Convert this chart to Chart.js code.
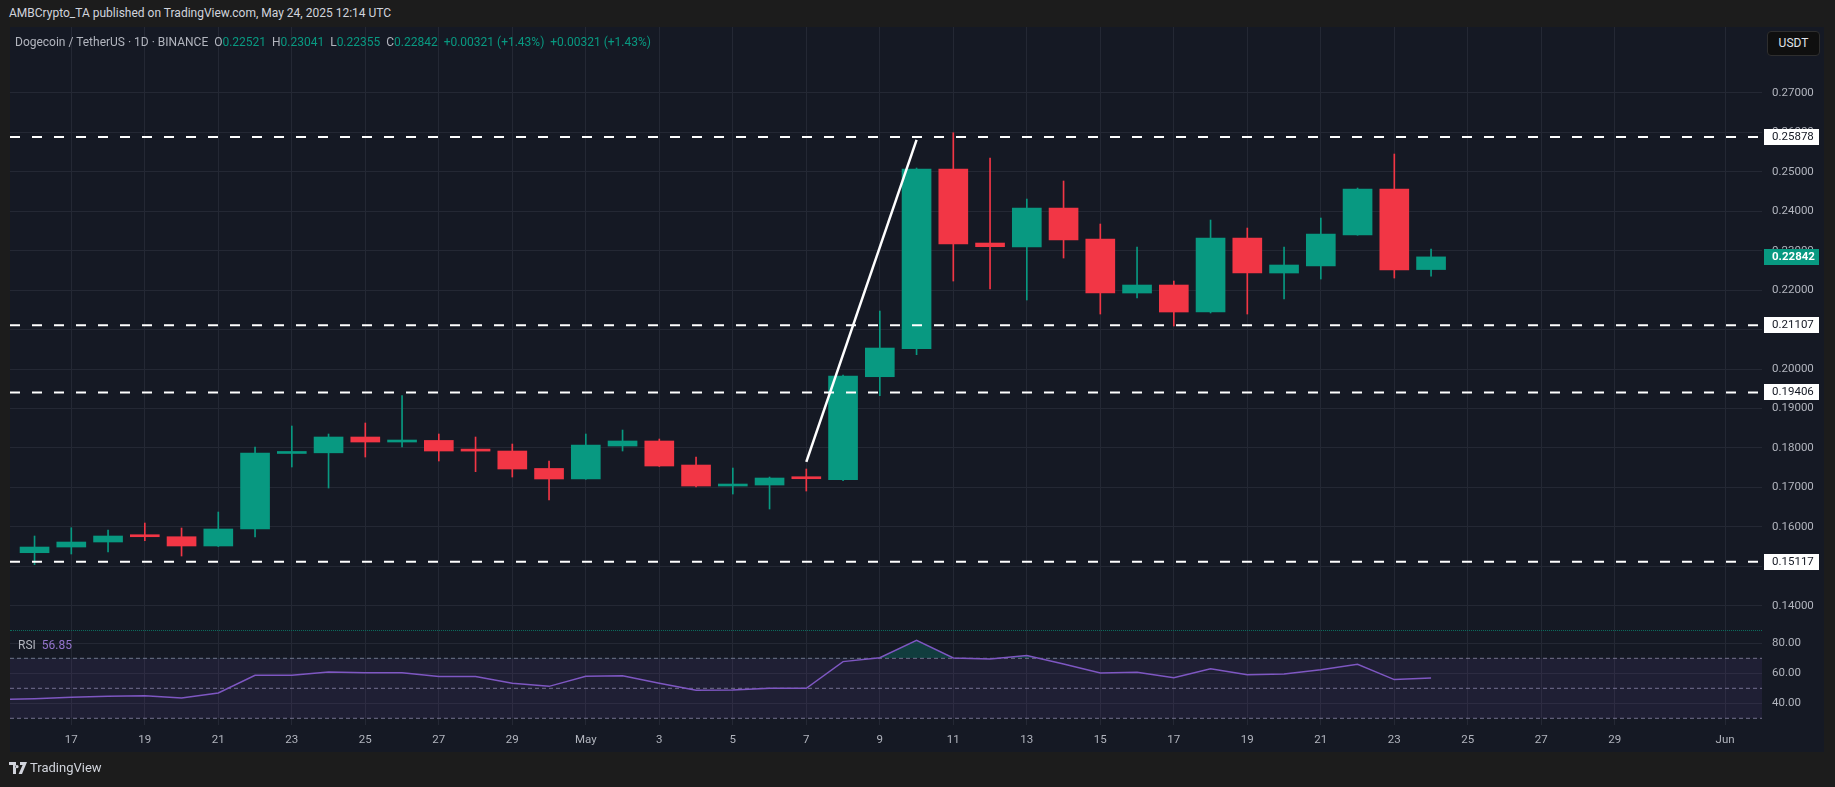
<!DOCTYPE html>
<html>
<head>
<meta charset="utf-8">
<title>Dogecoin / TetherUS 1D</title>
<script src="https://cdn.jsdelivr.net/npm/chart.js@4.4.1/dist/chart.umd.min.js"></script>
<style>
  html, body { margin: 0; padding: 0; }
  body { width: 1835px; height: 787px; background: #1c1c1c; position: relative; overflow: hidden; font-family: Roboto, "Liberation Sans", sans-serif; }
  .published { position: absolute; left: 9px; top: 6px; font-size: 12px; color: #d1d4dc; }
  .frame { position: absolute; left: 10px; top: 27px; width: 1814px; height: 725px; background: #151924; }
  #price { position: absolute; left: 0; top: 0; }
  #rsi { position: absolute; left: 0; top: 603px; }
  .legend { position: absolute; left: 5px; top: 8px; font-size: 12px; color: #b2b5be; white-space: pre; }
  .up { color: #089981; }
  .usdt { position: absolute; left: 1757px; top: 4px; width: 51px; height: 23px; border: 1px solid #2e2e2e; border-radius: 4px; background: #0f0f0f; color: #e0e3eb; font-size: 12px; line-height: 23px; text-align: center; }
  .sep { position: absolute; left: 0; top: 603px; width: 1752px; border-top: 1px dotted #0b6b5c; }
  .rsilab { position: absolute; left: 8px; top: 611px; font-size: 12px; color: #b2b5be; white-space: pre; }
  .rsilab span { color: #9575cd; }
  .logo { position: absolute; left: 9px; top: 760px; font-size: 13px; color: #d1d4dc; display: flex; align-items: center; gap: 3px; }
</style>
</head>
<body>
<div class="published">AMBCrypto_TA published on TradingView.com, May 24, 2025 12:14 UTC</div>
<div class="frame">
  <canvas id="price" width="1814" height="603"></canvas>
  <canvas id="rsi" width="1814" height="122"></canvas>
  <div class="sep"></div>
  <div class="legend">Dogecoin / TetherUS · 1D · BINANCE  O<span class="up">0.22521</span>  H<span class="up">0.23041</span>  L<span class="up">0.22355</span>  C<span class="up">0.22842</span>  <span class="up">+0.00321 (+1.43%)</span>  <span class="up">+0.00321 (+1.43%)</span></div>
  <div class="usdt">USDT</div>
  <div class="rsilab">RSI  <span>56.85</span></div>
</div>
<div class="logo">
  <svg width="18" height="12" viewBox="0 0 18 12"><path d="M0 0h7v12H4V3H0z M8 3a1.6 1.6 0 1 0 0.01 0z M11 0h7l-5 12h-3.4l4-9H11z" fill="#d1d4dc"/></svg>
  <span>TradingView</span>
</div>

<script>
// daily candles DOGE/USDT
const dates = ['2025-04-16','2025-04-17','2025-04-18','2025-04-19','2025-04-20','2025-04-21','2025-04-22','2025-04-23','2025-04-24','2025-04-25',
  '2025-04-26','2025-04-27','2025-04-28','2025-04-29','2025-04-30','2025-05-01','2025-05-02','2025-05-03','2025-05-04','2025-05-05',
  '2025-05-06','2025-05-07','2025-05-08','2025-05-09','2025-05-10','2025-05-11','2025-05-12','2025-05-13','2025-05-14','2025-05-15',
  '2025-05-16','2025-05-17','2025-05-18','2025-05-19','2025-05-20','2025-05-21','2025-05-22','2025-05-23','2025-05-24'];
const open  = [0.15345,0.15489,0.15616,0.15768,0.15750,0.15515,0.15946,0.17860,0.17876,0.18277,
  0.18150,0.18190,0.17935,0.17922,0.17480,0.17213,0.18049,0.18176,0.17567,0.17035,
  0.17060,0.17250,0.17195,0.19805,0.20515,0.25069,0.23193,0.23092,0.24080,0.23295,
  0.21926,0.22129,0.21445,0.23320,0.22433,0.22610,0.23396,0.24562,0.22521];
const high  = [0.15768,0.15978,0.15920,0.16097,0.15971,0.16376,0.18024,0.18556,0.18353,0.18632,
  0.19326,0.18353,0.18277,0.18099,0.17669,0.18353,0.18454,0.18226,0.17770,0.17491,
  0.17263,0.17466,0.19848,0.21470,0.25094,0.25989,0.25347,0.24308,0.24765,0.23675,
  0.23092,0.22230,0.23776,0.23573,0.23092,0.23827,0.24587,0.25449,0.23041];
const low   = [0.15041,0.15312,0.15363,0.15649,0.15261,0.15500,0.15743,0.17517,0.16984,0.17770,
  0.18023,0.17669,0.17398,0.17263,0.16680,0.17205,0.17922,0.17530,0.17010,0.16832,
  0.16452,0.16908,0.17170,0.19324,0.20363,0.22230,0.22028,0.21749,0.22813,0.21394,
  0.21800,0.21090,0.21420,0.21394,0.21774,0.22281,0.23390,0.22306,0.22355];
const close = [0.15489,0.15616,0.15768,0.15750,0.15515,0.15946,0.17872,0.17876,0.18277,0.18150,
  0.18170,0.17922,0.17920,0.17466,0.17213,0.18074,0.18176,0.17542,0.17035,0.17078,
  0.17238,0.17220,0.19823,0.20532,0.25069,0.23168,0.23100,0.24080,0.23269,0.21926,
  0.22129,0.21445,0.23320,0.22433,0.22636,0.23421,0.24562,0.22509,0.22842];

// RSI(14)
const rsiDates = ['2025-04-15'].concat(dates);
const rsi = [42.5,43.1,44.0,44.7,45.1,43.6,46.9,58.7,58.7,60.9,60.4,
  60.4,57.8,57.8,53.4,51.3,58.0,58.4,53.3,48.7,48.9,
  50.0,50.0,67.8,70.4,82.0,70.2,69.6,71.9,66.2,60.2,
  60.7,57.1,63.1,59.1,59.6,62.4,66.0,55.8,56.85];

// drawings
const levels = [0.25878, 0.21107, 0.19406, 0.15117];
const trendDates = ['2025-05-07', '2025-05-10'];
const trendPrices = [0.17649, 0.25809];

// axes
const priceTicks = [0.14,0.15,0.16,0.17,0.18,0.19,0.20,0.21,0.22,0.23,0.24,0.25,0.26,0.27];
const rsiTicks = [40, 60, 80];
const rsiBands = [70, 50, 30];
const tickDates = ['2025-04-17','2025-04-19','2025-04-21','2025-04-23','2025-04-25','2025-04-27','2025-04-29',
  '2025-05-01','2025-05-03','2025-05-05','2025-05-07','2025-05-09','2025-05-11','2025-05-13','2025-05-15',
  '2025-05-17','2025-05-19','2025-05-21','2025-05-23','2025-05-25','2025-05-27','2025-05-29','2025-06-01'];
const monthNames = ['Jan','Feb','Mar','Apr','May','Jun','Jul','Aug','Sep','Oct','Nov','Dec'];

const base = Date.UTC(2025, 4, 1);
const day = s => (Date.parse(s + 'T00:00:00Z') - base) / 86400000;
const tickDays = tickDates.map(day);
const tickLabels = tickDates.map(s => {
  const d = new Date(s + 'T00:00:00Z');
  return d.getUTCDate() === 1 ? monthNames[d.getUTCMonth()] : String(d.getUTCDate());
});
const xMin = -15.668, xMax = 32.005;

const GREEN = '#089981', RED = '#f23645', GRID = '#242834', TEXT = '#b2b5be';
Chart.defaults.font.family = 'Roboto, "Liberation Sans", sans-serif';
Chart.defaults.font.size = 11.5;
Chart.defaults.color = TEXT;

const colors = close.map((c, i) => c >= open[i] ? GREEN : RED);

const xAxis = (showLabels) => ({
  type: 'linear', min: xMin, max: xMax, offset: false,
  grid: { color: GRID, offset: false, drawTicks: false },
  border: { display: false },
  afterBuildTicks: s => { s.ticks = tickDays.map(v => ({ value: v })); },
  ticks: { display: showLabels, autoSkip: false, maxRotation: 0, padding: 8, callback: (v, i) => tickLabels[i] },
  afterFit: s => { s.height = showLabels ? 27 : 0; s.paddingLeft = 0; s.paddingRight = 0; }
});

const yAxis = (min, max, ticks, fmt) => ({
  position: 'right', min: min, max: max,
  grid: { color: GRID, drawTicks: false },
  border: { display: false },
  afterBuildTicks: s => { s.ticks = ticks.map(v => ({ value: v })); },
  ticks: { padding: 10, callback: v => v.toFixed(fmt) },
  afterFit: s => { s.width = 62; s.paddingTop = 0; s.paddingBottom = 0; }
});

// price labels on the right scale
const priceTags = {
  id: 'priceTags',
  afterDraw(chart) {
    const ctx = chart.ctx, ys = chart.scales.y, left = chart.chartArea.right + 2;
    const tag = (v, bg, fg, weight) => {
      const py = Math.round(ys.getPixelForValue(v));
      ctx.fillStyle = bg;
      ctx.fillRect(left, py - 8, 55, 16);
      ctx.fillStyle = fg;
      ctx.font = weight + ' 11.5px Roboto, "Liberation Sans", sans-serif';
      ctx.textBaseline = 'middle';
      ctx.textAlign = 'left';
      ctx.fillText(v.toFixed(5), left + 8, py + 0.5);
    };
    ctx.save();
    levels.forEach(v => tag(v, '#ffffff', '#131722', 'normal'));
    tag(close[close.length - 1], GREEN, '#ffffff', 'bold');
    ctx.restore();
  }
};

const levelSets = levels.map(v => ({
  type: 'line', order: 2,
  data: [{ x: xMin, y: v }, { x: xMax, y: v }],
  borderColor: '#ffffff', borderWidth: 2, borderDash: [10, 12], pointRadius: 0
}));

new Chart(document.getElementById('price'), {
  type: 'bar',
  data: {
    datasets: [
      {
        type: 'line', order: 0,
        data: trendDates.map((d, i) => ({ x: day(d), y: trendPrices[i] })),
        borderColor: '#ffffff', borderWidth: 2.5, pointRadius: 0
      },
      {
        order: 3, grouped: false,
        data: dates.map((d, i) => ({ x: day(d), y: [open[i], close[i]] })),
        backgroundColor: colors, barThickness: 29, minBarLength: 2, borderWidth: 0
      },
      {
        order: 4, grouped: false,
        data: dates.map((d, i) => ({ x: day(d), y: [low[i], high[i]] })),
        backgroundColor: colors, barThickness: 1, borderWidth: 0
      },
      ...levelSets
    ]
  },
  options: {
    responsive: false, animation: false, devicePixelRatio: 1,
    layout: { padding: 0, autoPadding: false },
    plugins: { legend: { display: false }, tooltip: { enabled: false } },
    scales: {
      x: xAxis(false),
      y: yAxis(0.13386, 0.28668, priceTicks, 5)
    }
  },
  plugins: [priceTags]
});

const bandSet = (v, i) => ({
  data: [{ x: xMin, y: v }, { x: xMax, y: v }],
  borderColor: 'rgba(140,136,165,0.8)', borderWidth: 1, borderDash: [4, 3], pointRadius: 0,
  fill: i === 0 ? { target: { value: rsiBands[2] } } : false,
  backgroundColor: 'rgba(126,87,194,0.10)'
});

new Chart(document.getElementById('rsi'), {
  type: 'line',
  data: {
    datasets: [
      {
        data: rsiDates.map((d, i) => ({ x: day(d), y: rsi[i] })),
        borderColor: '#7e57c2', borderWidth: 1.5, pointRadius: 0,
        fill: { target: { value: 70 }, above: 'rgba(8,153,129,0.28)', below: 'rgba(0,0,0,0)' }
      },
      ...rsiBands.map(bandSet)
    ]
  },
  options: {
    responsive: false, animation: false, devicePixelRatio: 1,
    layout: { padding: 0, autoPadding: false },
    plugins: { legend: { display: false }, tooltip: { enabled: false } },
    scales: {
      x: xAxis(true),
      y: yAxis(25.53, 88.87, rsiTicks, 2)
    }
  }
});
</script>
</body>
</html>
